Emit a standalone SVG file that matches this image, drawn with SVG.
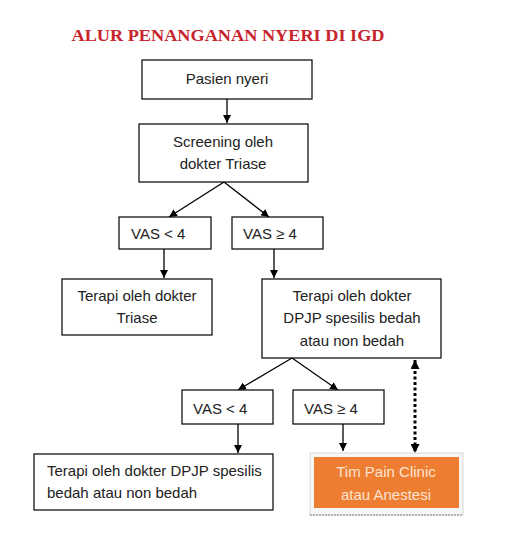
<svg xmlns="http://www.w3.org/2000/svg" width="507" height="539" viewBox="0 0 507 539">
<style>
.box{fill:#fff;stroke:#000;stroke-width:1.2}
.t{font-family:"Liberation Sans",Arial,sans-serif;font-size:15px;fill:#222}
.c{text-anchor:middle}
.ln{stroke:#000;stroke-width:1.3;fill:none}
</style>
<defs>
<marker id="ah" viewBox="0 0 10 10" refX="10" refY="5" markerWidth="8" markerHeight="8" markerUnits="userSpaceOnUse" orient="auto">
<path d="M0,0 L10,5 L0,10 z" fill="#000"/>
</marker>
<marker id="ahd" viewBox="0 0 10 10" refX="10" refY="5" markerWidth="9" markerHeight="9" markerUnits="userSpaceOnUse" orient="auto-start-reverse">
<path d="M0,0 L10,5 L0,10 z" fill="#000"/>
</marker>
</defs>
<rect width="507" height="539" fill="#fff"/>
<text x="228" y="41" text-anchor="middle" font-family="'Liberation Serif','Times New Roman',serif" font-weight="bold" font-size="16.5" fill="#c8242b" textLength="313" lengthAdjust="spacingAndGlyphs">ALUR PENANGANAN NYERI DI IGD</text>

<g id="connectors">
<line class="ln" x1="227" y1="99" x2="227" y2="123" marker-end="url(#ah)"/>
<line class="ln" x1="224" y1="182" x2="169" y2="217" marker-end="url(#ah)"/>
<line class="ln" x1="224" y1="182" x2="269" y2="217" marker-end="url(#ah)"/>
<line class="ln" x1="164" y1="249" x2="164" y2="278" marker-end="url(#ah)"/>
<line class="ln" x1="274" y1="249" x2="274" y2="278" marker-end="url(#ah)"/>
<line class="ln" x1="292" y1="358" x2="238" y2="390" marker-end="url(#ah)"/>
<line class="ln" x1="292" y1="358" x2="338" y2="390" marker-end="url(#ah)"/>
<line class="ln" x1="238" y1="424" x2="238" y2="453" marker-end="url(#ah)"/>
<line class="ln" x1="343" y1="424" x2="343" y2="451" marker-end="url(#ah)"/>
<line x1="415" y1="360" x2="415" y2="453" stroke="#000" stroke-width="3" stroke-dasharray="3,2.5" marker-start="url(#ahd)" marker-end="url(#ahd)"/>
</g>

<g id="n1"><rect class="box" x="142" y="60" width="170" height="39"/><text class="t c" x="227" y="84">Pasien nyeri</text></g>
<g id="n2"><rect class="box" x="139" y="124" width="169" height="58"/><text class="t c" x="223" y="147">Screening oleh</text><text class="t c" x="223" y="169">dokter Triase</text></g>
<g id="n3"><rect class="box" x="119" y="217" width="92" height="32"/><text class="t" x="131" y="239">VAS &lt; 4</text></g>
<g id="n4"><rect class="box" x="232" y="217" width="91" height="32"/><text class="t" x="243" y="239">VAS ≥ 4</text></g>
<g id="n5"><rect class="box" x="62" y="279" width="150" height="56"/><text class="t c" x="137" y="301">Terapi oleh dokter</text><text class="t c" x="137" y="323">Triase</text></g>
<g id="n6"><rect class="box" x="262" y="279" width="179" height="79"/><text class="t c" x="352" y="301">Terapi oleh dokter</text><text class="t c" x="352" y="323">DPJP spesilis bedah</text><text class="t c" x="352" y="346">atau non bedah</text></g>
<g id="n7"><rect class="box" x="182" y="390" width="91" height="34"/><text class="t" x="193" y="414">VAS &lt; 4</text></g>
<g id="n8"><rect class="box" x="293" y="390" width="91" height="34"/><text class="t" x="304" y="414">VAS ≥ 4</text></g>
<g id="n9"><rect class="box" x="34" y="454" width="239" height="56"/><text class="t" x="47" y="476">Terapi oleh dokter DPJP spesilis</text><text class="t" x="47" y="498">bedah atau non bedah</text></g>
<g id="n10">
<rect x="310" y="453" width="153" height="62" fill="#f6f6f6" stroke="#d8d8d8" stroke-width="1"/>
<line x1="310" y1="515" x2="463" y2="515" stroke="#888" stroke-width="1.2" stroke-dasharray="2,1"/>
<rect x="314" y="457" width="145" height="51" fill="#ed7d31"/>
<text class="t c" x="386" y="477" style="fill:#fde4d2">Tim Pain Clinic</text>
<text class="t c" x="386" y="500" style="fill:#fde4d2">atau Anestesi</text>
</g>
</svg>
